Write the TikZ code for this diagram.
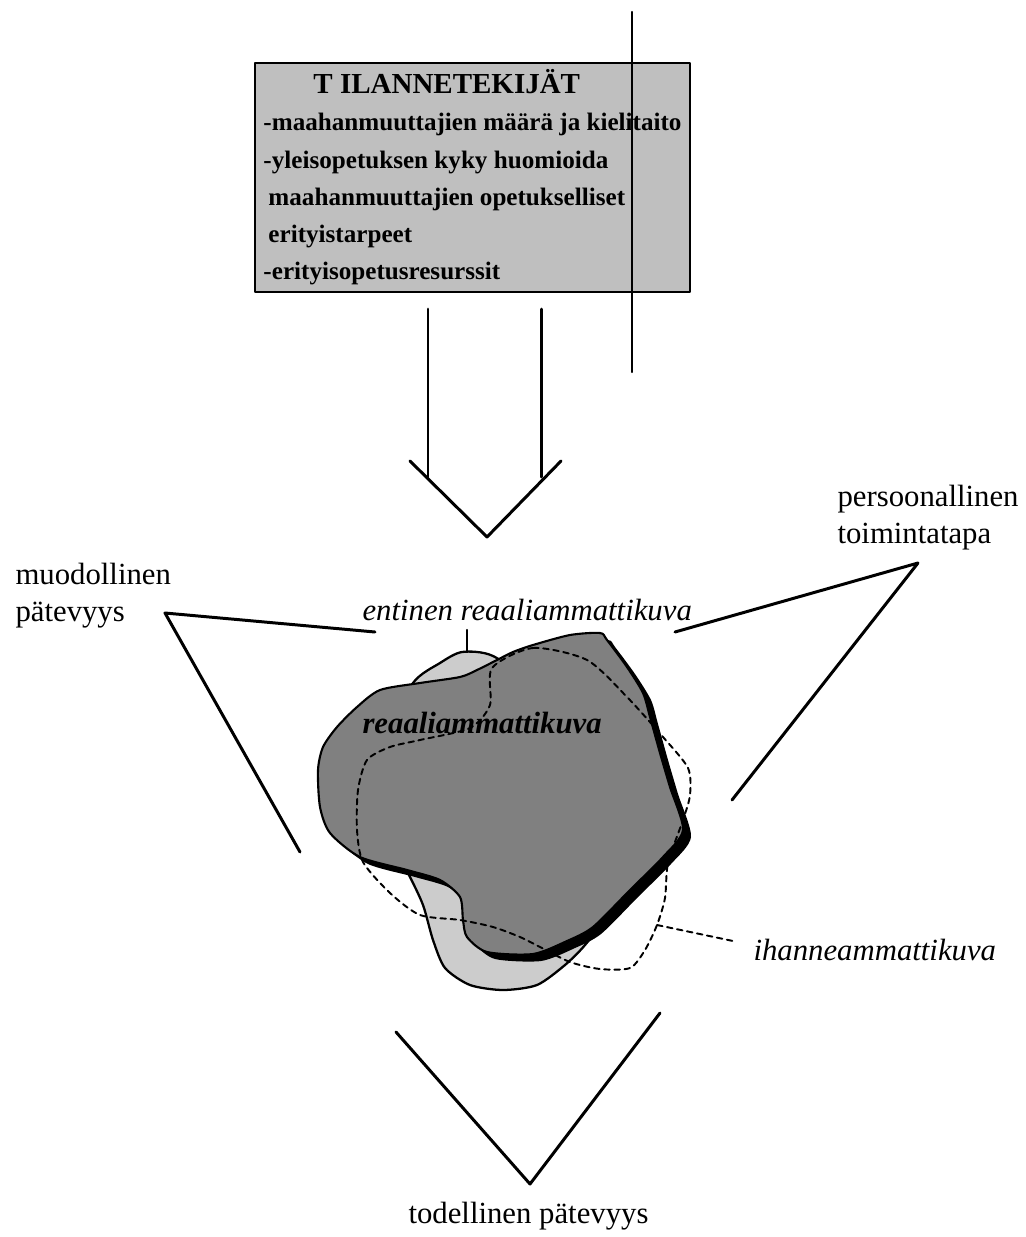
\documentclass[tikz,border=0pt]{standalone}
\usepackage{fontspec}
\setmainfont{Liberation Serif}
\usepackage{tikz}
\usetikzlibrary{positioning}

\begin{document}
\begin{tikzpicture}[x=0.02cm,y=-0.02cm,line join=round,line cap=round,
                    semithick]
\tikzstyle{lbl}=[inner sep=0pt,font=\fontsize{17.5pt}{21pt}\selectfont]
\tikzstyle{leg}=[line width=1.7pt]
\tikzstyle{ideal}=[dash pattern=on 3.2pt off 2.6pt,line width=1.1pt]
\tikzset{blob/.style={smooth cycle,tension=0.45}}

\useasboundingbox (0,0) rectangle (1026,1237);

        % tilannetekijat box
        \node[draw,line width=1.3pt,fill=black!25,minimum width=8.7cm,minimum height=4.58cm,
              align=left,inner sep=0pt,
              font=\bfseries\fontsize{14.3pt}{21.2pt}\selectfont]  (tilanne) at (472.5,177.5)
              {\hspace*{1.0cm}{\fontsize{16.5pt}{21.2pt}\selectfont T ILANNETEKIJÄT}\\
               -maahanmuuttajien määrä ja kielitaito\\
               -yleisopetuksen kyky huomioida\\
               \hspace*{0.1cm}maahanmuuttajien opetukselliset\\
               \hspace*{0.1cm}erityistarpeet\\
               -erityisopetusresurssit};

        \coordinate (vTop) at (632,12);
        \coordinate (vBot) at (632,372);
        \draw[line width=1.3pt] (vTop) -- (vBot);

        % big arrow
        \coordinate (aL) at (428,309);
        \coordinate (aR) at (541,309);
        \coordinate (aLb) at (428,477);
        \coordinate (aRb) at (541,477);
        \coordinate (hL) at (410,461);
        \coordinate (hTip) at (487,537);
        \coordinate (hR) at (561,461);
        \draw[leg] (aL) -- (aLb);
        \draw[leg] (aR) -- (aRb);
        \draw[leg] (hL) -- (hTip) -- (hR);

        % labels
        \node[lbl,anchor=west,align=left]  (muod) at (15,596)  {muodollinen\\pätevyys};
        \node[lbl,anchor=west,align=left]  (pers) at (837,518) {persoonallinen\\toimintatapa};
        \node[lbl,anchor=base west]        (entinen) at (362,620) {\itshape entinen reaaliammattikuva};
        \node[lbl,anchor=base west]        (ihanne)  at (753,960) {\itshape ihanneammattikuva};
        \node[lbl,anchor=base west]        (todell)  at (408,1223) {todellinen pätevyys};

        \coordinate (mV) at (165,613);
        \coordinate (mA) at (375,632);
        \coordinate (mB) at (300,852);
        \coordinate (pV) at (918,563);
        \coordinate (pA) at (675,632);
        \coordinate (pB) at (732,800);
        \draw[leg] (mA) -- (mV) -- (mB);
        \draw[leg] (pA) -- (pV) -- (pB);

        % bottom V
        \coordinate (tL) at (396,1032);
        \coordinate (tTip) at (530,1184);
        \coordinate (tR) at (660,1013);
        \draw[leg] (tL) -- (tTip) -- (tR);

        % entinen (light)
        \filldraw[fill=black!20,line width=1.3pt] plot[blob] coordinates {
            (413,683) (440,663) (462,652) (493,656) (540,690) (600,760) (610,860)
            (597,925) (585,945) (565,965) (537,985) (503,990) (470,985) (445,968)
            (433,940) (423,905) (408,873) (385,830) (385,740)};
        \coordinate (eTick) at (467,651);
        \draw[line width=1.3pt] (467,630) -- (eTick);

        % reaali (dark) with shadow
        \fill[black,shift={(8,7)}] plot[blob] coordinates {
            (380,690) (357,707) (337,727) (323,747) (318,770) (320,807) (330,833)
            (360,857) (407,870) (440,880) (460,897) (463,920) (467,937) (487,952)
            (533,954) (567,941) (593,927) (630,890) (663,857) (683,830) (670,787)
            (660,753) (650,717) (643,693) (627,667) (607,640) (600,633) (570,635)
            (533,645) (513,652) (497,660) (477,670) (460,677) (420,683)};
        \filldraw[fill=black!50,line width=1.2pt] plot[blob] coordinates {
            (380,690) (357,707) (337,727) (323,747) (318,770) (320,807) (330,833)
            (360,857) (407,870) (440,880) (460,897) (463,920) (467,937) (487,952)
            (533,954) (567,941) (593,927) (630,890) (663,857) (683,830) (670,787)
            (660,753) (650,717) (643,693) (627,667) (607,640) (600,633) (570,635)
            (533,645) (513,652) (497,660) (477,670) (460,677) (420,683)};
        \node[lbl,anchor=base west] (reaali) at (362,733) {\bfseries\itshape reaaliammattikuva};

        % ihanne (dashed)
        \draw[ideal] plot[blob] coordinates {
            (492,668) (533,648) (587,660) (627,697) (663,737) (688,768) (690,795)
            (683,820) (668,863) (665,898) (657,925) (645,950) (630,968) (600,969)
            (570,962) (540,947) (520,937) (493,927) (460,920) (420,915) (390,893)
            (363,862) (357,830) (358,790) (367,760) (390,747) (420,740) (470,728)
            (490,705)};
        \coordinate (iJoin) at (657,925);
        \coordinate (iEnd) at (733,941);
        \draw[ideal] (iJoin) -- (iEnd);

\end{tikzpicture}
\end{document}
